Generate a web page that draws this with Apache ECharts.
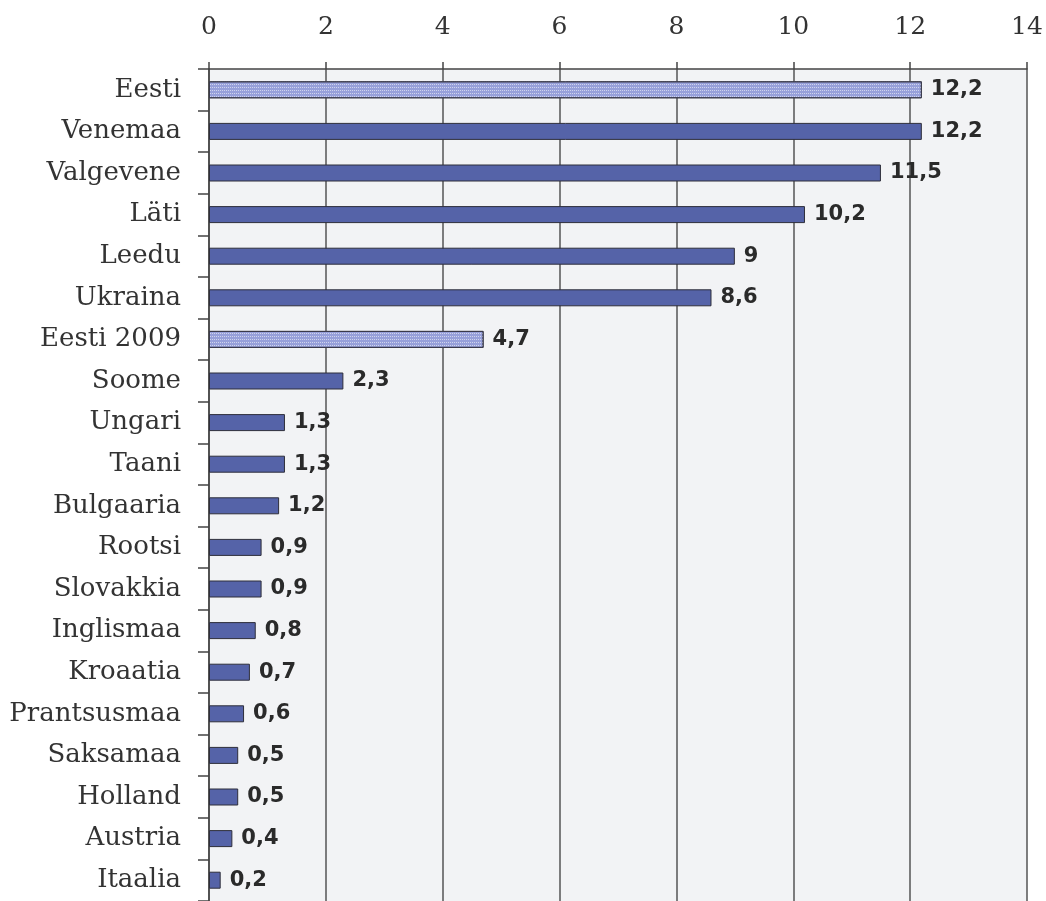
<!DOCTYPE html>
<html>
<head>
<meta charset="utf-8">
<script src="https://cdn.jsdelivr.net/npm/echarts@6/dist/echarts.min.js"></script>
<style>
  html, body { margin: 0; padding: 0; background: #ffffff; }
  #chart { width: 1046px; height: 901px; }
</style>
</head>
<body>
<div id="chart"></div>
<script>
// Countries, top to bottom
const categories = [
  'Eesti', 'Venemaa', 'Valgevene', 'Läti', 'Leedu', 'Ukraina', 'Eesti 2009',
  'Soome', 'Ungari', 'Taani', 'Bulgaaria', 'Rootsi', 'Slovakkia', 'Inglismaa',
  'Kroaatia', 'Prantsusmaa', 'Saksamaa', 'Holland', 'Austria', 'Itaalia'
];
const values = [
  12.2, 12.2, 11.5, 10.2, 9, 8.6, 4.7,
  2.3, 1.3, 1.3, 1.2, 0.9, 0.9, 0.8,
  0.7, 0.6, 0.5, 0.5, 0.4, 0.2
];
// Rows for Estonia are drawn with a dotted fill
const highlighted = ['Eesti', 'Eesti 2009'];

const dotted = {
  color: 'rgba(255,255,255,0.55)',
  symbol: 'rect',
  symbolSize: 1,
  dashArrayX: [1, 1],
  dashArrayY: [1, 2],
  rotation: 0
};

const serif = 'DejaVu Serif, serif';

const chart = echarts.init(document.getElementById('chart'));
chart.setOption({
  animation: false,
  grid: {
    left: 209, right: 19, top: 69, height: 836,
    show: true, backgroundColor: '#f2f3f5', borderWidth: 0
  },
  xAxis: {
    type: 'value',
    position: 'top',
    min: 0, max: 14, interval: 2,
    axisLine: { show: true, lineStyle: { color: '#444', width: 1.5 } },
    axisTick: { show: true, length: 7, lineStyle: { color: '#444', width: 1.5 } },
    axisLabel: {
      margin: 29,
      fontFamily: serif,
      fontSize: 25, color: '#333'
    },
    splitLine: { show: true, lineStyle: { color: '#555', width: 1.5 } }
  },
  yAxis: {
    type: 'category',
    data: categories,
    inverse: true,
    axisLine: { show: true, lineStyle: { color: '#444', width: 1.5 } },
    axisTick: { show: true, length: 11, lineStyle: { color: '#444', width: 1.5 } },
    axisLabel: {
      margin: 28,
      fontFamily: serif,
      fontSize: 26, color: '#333'
    }
  },
  series: [{
    type: 'bar',
    barWidth: 17,
    data: values.map((v, i) => {
      const hl = highlighted.includes(categories[i]);
      return {
        value: v,
        itemStyle: hl
          ? { color: '#97a0da', borderColor: '#3a3a4a', borderWidth: 1, decal: dotted }
          : { color: '#5563a8', borderColor: '#2e2e3a', borderWidth: 1 }
      };
    }),
    label: {
      show: true,
      position: 'right',
      distance: 9,
      fontFamily: 'DejaVu Sans, sans-serif',
      fontWeight: 'bold',
      fontSize: 21,
      color: '#2a2a2a',
      formatter: p => String(p.value).replace('.', ',')
    }
  }]
});
</script>
</body>
</html>
